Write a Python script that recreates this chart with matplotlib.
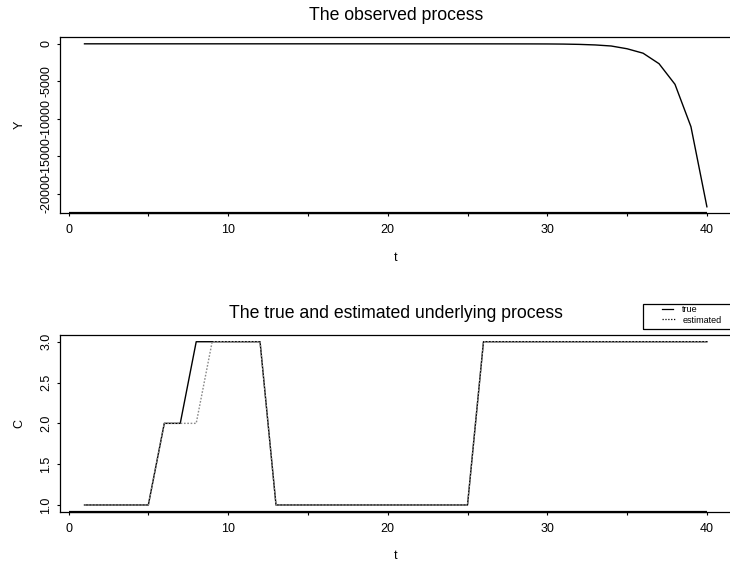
import matplotlib
matplotlib.use('Agg')
import matplotlib.pyplot as plt
from matplotlib.lines import Line2D
from matplotlib.patches import Rectangle

plt.rcParams['font.family'] = ['Liberation Sans', 'DejaVu Sans']
plt.rcParams['axes.unicode_minus'] = False

# time index
t = list(range(1, 41))

# observed process Y
y_obs = [0, 0, 0, 0, 0, 0, 0, 0, 0, 0,
         0, 0, 0, 0, 0, 0, 0, 0, 0, -1,
         -1, -2, -2, -3, -4, -5, -7, -9, -12, -18,
         -35, -75, -150, -290, -660, -1250, -2650, -5400, -11050, -21730]

# true and estimated underlying state C
c_true = [1, 1, 1, 1, 1, 2, 2, 3, 3, 3, 3, 3,
          1, 1, 1, 1, 1, 1, 1, 1, 1, 1, 1, 1, 1,
          3, 3, 3, 3, 3, 3, 3, 3, 3, 3, 3, 3, 3, 3, 3]
c_est = [1, 1, 1, 1, 1, 2, 2, 2, 3, 3, 3, 3,
         1, 1, 1, 1, 1, 1, 1, 1, 1, 1, 1, 1, 1,
         3, 3, 3, 3, 3, 3, 3, 3, 3, 3, 3, 3, 3, 3, 3]

x_ticks = [0, 5, 10, 15, 20, 25, 30, 35, 40]
x_labels = ['0', '', '10', '', '20', '', '30', '', '40']
y1_ticks = [0, -5000, -10000, -15000, -20000]
y2_ticks = [1.0, 1.5, 2.0, 2.5, 3.0]

W, H = 730, 562
fig = plt.figure(figsize=(W / 100, H / 100), dpi=100)


def rect(left, top, right, bottom):
    return [left / W, 1 - bottom / H, (right - left) / W, (bottom - top) / H]


def rlim(vals):
    # R style 4% extension of the data range
    lo, hi = min(vals), max(vals)
    pad = 0.04 * (hi - lo)
    return lo - pad, hi + pad


def style(ax, yticks, yfmt, ylabel, title):
    ax.set_xlim(rlim(t))
    ax.set_xticks(x_ticks)
    ax.set_xticklabels(x_labels)
    ax.set_yticks(yticks)
    ax.set_yticklabels([yfmt(v) for v in yticks])
    ax.tick_params(axis='both', direction='out', length=2.5, width=0.8,
                   labelsize=9, colors='black')
    ax.tick_params(axis='x', pad=5.5)
    ax.tick_params(axis='y', pad=2.8)
    for lab in ax.get_yticklabels():
        lab.set_rotation(90)
        lab.set_va('center')
        lab.set_ha('right')
    for s in ax.spines.values():
        s.set_linewidth(0.9)
    # axis line from first to last tick, drawn over the box
    ax.plot([x_ticks[0], x_ticks[-1]], [ax.get_ylim()[0]] * 2, color='black',
            lw=1.6, clip_on=False, solid_capstyle='butt')
    ax.set_xlabel('t', fontsize=9, va='center')
    ax.xaxis.set_label_coords(0.5, -0.255)
    ax.set_ylabel(ylabel, fontsize=9, va='center')
    ax.yaxis.set_label_coords(-0.060, 0.5)
    ax.set_title(title, fontsize=12.7, pad=12.5)


# upper panel
ax1 = fig.add_axes(rect(59.6, 37.3, 731.8, 213.3))
ax1.plot(t, y_obs, color='black', lw=1.0)
ax1.set_ylim(rlim(y_obs))
style(ax1, y1_ticks, lambda v: '%d' % v, 'Y', 'The observed process')

# lower panel
ax2 = fig.add_axes(rect(59.6, 335.2, 731.8, 511.5))
ax2.plot(t, c_true, color='black', lw=1.0)
ax2.plot(t, c_est, color='#8a8a8a', lw=1.0, linestyle=(0, (1.2, 1.2)))
ax2.set_ylim(rlim(c_true + c_est))
style(ax2, y2_ticks, lambda v: '%.1f' % v, 'C',
      'The true and estimated underlying process')

# legend (box runs off the right edge like the reference)
tf = fig.transFigure
fig.add_artist(Rectangle((643.3 / W, 1 - 329.3 / H), 100 / W, 25.3 / H,
                         transform=tf, fill=False, ec='black', lw=0.9))
fig.add_artist(Line2D([661.7 / W, 673.3 / W], [1 - 309.0 / H] * 2,
                      transform=tf, color='black', lw=0.9))
fig.add_artist(Line2D([661.7 / W, 674.5 / W], [1 - 319.0 / H] * 2,
                      transform=tf, color='black', lw=0.9,
                      linestyle=(0, (1, 1.3))))
fig.text(682.3 / W, 1 - 312.0 / H, 'true', fontsize=6.5, va='baseline',
         transform=tf)
fig.text(682.3 / W, 1 - 322.6 / H, 'estimated', fontsize=6.5, va='baseline',
         transform=tf)

fig.savefig('out.png', dpi=100)
